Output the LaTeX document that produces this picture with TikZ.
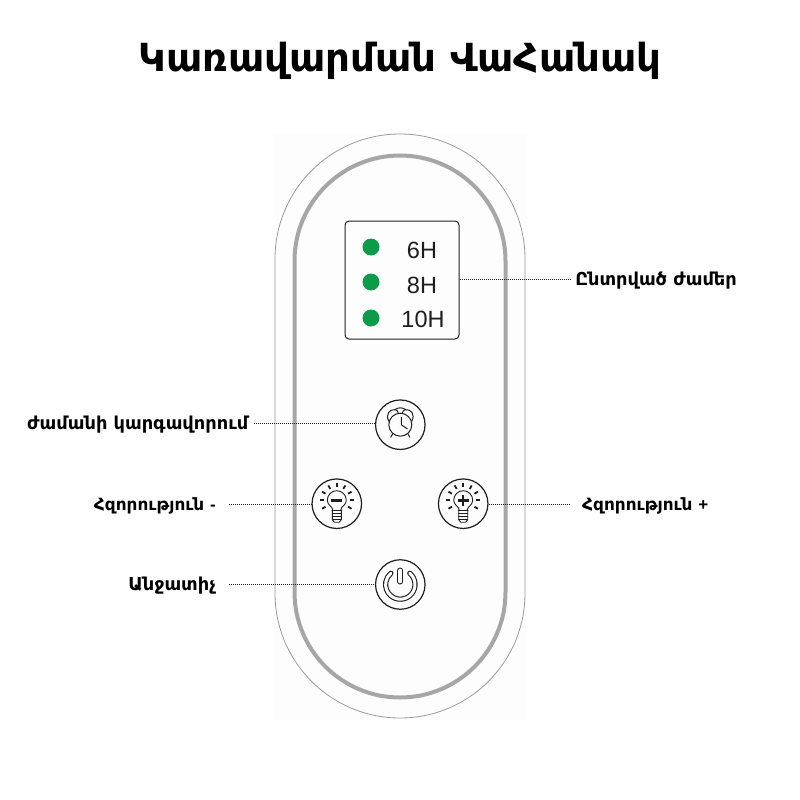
\documentclass[tikz,border=0pt]{standalone}
\usepackage{fontspec}
\setmainfont{DejaVu Sans}
\newfontfamily\digitfont{Liberation Sans}
\usetikzlibrary{calc}
\definecolor{ledgreen}{HTML}{0D9B4B}
\definecolor{ringgray}{HTML}{A6A6A6}
\definecolor{shellgray}{HTML}{9A9A9A}
\definecolor{panelwhite}{HTML}{FDFDFD}
\definecolor{inkdark}{HTML}{1E1E1E}
\tikzset{
  titletext/.style={font=\fontsize{38.7}{44}\selectfont\bfseries,anchor=base,inner sep=0pt,text=black},
  calltext/.style={font=\fontsize{17.8}{20}\selectfont\bfseries,inner sep=0pt,text=black},
  powertext/.style={font=\fontsize{16.9}{20}\selectfont\bfseries,inner sep=0pt,text=black},
  hourtext/.style={font=\digitfont\fontsize{23.5}{28}\selectfont,anchor=base,inner sep=0pt,text=inkdark},
  leddot/.style={circle,fill=ledgreen,minimum size=17pt,inner sep=0pt},
  knob/.style={circle,draw=inkdark,line width=1.2pt,minimum size=49.5pt,inner sep=0pt,fill=panelwhite},
  leader/.style={draw=inkdark,line width=.6pt,dash pattern=on 1pt off 1pt},
  glyph/.style={draw=inkdark,line width=1pt,line cap=round,line join=round},
  ray/.style={draw=inkdark,line width=1.8pt},
}
\newcommand{\bulbicon}[1]{%
  \begin{scope}[shift={(#1)}]
    \draw[glyph,line width=.9pt] (-4,6) .. controls (-4.5,2.5) and (-9.5,1.5) .. (-9.5,-3.5) arc[start angle=180,end angle=0,x radius=9.5,y radius=-9.5] .. controls (9.5,1.5) and (4.5,2.5) .. (4,6);
    \draw[glyph,line width=.9pt] (-5,6.5) -- (5,6.5);
    \draw[glyph,line width=.9pt] (-4.5,6.5) -- (-4.5,16) -- (-2.5,18.5) -- (2.5,18.5) -- (4.5,16) -- (4.5,6.5);
    \foreach \yy in {9.5,12.5,15.5} \draw[glyph,line width=1pt] (-4.5,\yy) -- (4.5,\yy);
    \foreach \aa in {-30,0,30,60,90,120,150,180,210}
      \draw[ray] ($(0,-3.5)+(\aa:13 and -13)$) -- ($(0,-3.5)+(\aa:17 and -17)$);
  \end{scope}}
\begin{document}
\begin{tikzpicture}[x=1pt,y=-1pt]
\useasboundingbox (0,0) rectangle (800,800);
\fill[white] (0,0) rectangle (800,800);
\fill[panelwhite] (273,134) rectangle (527,720);
% shells
\draw[shellgray,line width=.8pt] (275,259) arc[start angle=180,end angle=0,x radius=125,y radius=-125] -- (525,593) arc[start angle=0,end angle=-180,x radius=125,y radius=-125] -- cycle;
\draw[ringgray,line width=4pt] (294.5,261) arc[start angle=180,end angle=0,x radius=105.5,y radius=-105.5] -- (505.5,592) arc[start angle=0,end angle=-180,x radius=105.5,y radius=-105.5] -- cycle;
% title
\node[titletext] (title) at (400,71) {Կառավարման ՎաՀանակ};
% display
\node[draw=inkdark,line width=1pt,rounded corners=4pt,minimum width=114pt,minimum height=118pt,inner sep=0pt,fill=panelwhite] (lcd) at (402,280) {};
\node[leddot] (ledA) at (371,247) {};
\node[leddot] (ledB) at (371,282) {};
\node[leddot] (ledC) at (371,318) {};
\node[hourtext] (hA) at (422,258) {6H};
\node[hourtext] (hB) at (422,293) {8H};
\node[hourtext] (hC) at (423,327) {10H};
% knobs
\node[knob] (clock) at (400.3,424.7) {};
\node[knob] (minus) at (336.8,503.7) {};
\node[knob] (plus) at (463.2,503.7) {};
\node[knob] (power) at (400.3,584.5) {};
% alarm icon
\begin{scope}[shift={(clock.center)}]
  \draw[glyph] (0,0) circle[radius=11.5];
  \draw[glyph] (1,-7.5) -- (1,0) -- (7,4.2);
  \draw[glyph] (-7.5,9) -- (-9.5,12.5);
  \draw[glyph] (7.5,9) -- (9.5,12.5);
  \draw[glyph] (-11.5,-3.5) .. controls (-15,-10) and (-11,-16) .. (-5,-15) .. controls (-3.5,-14.5) and (-2,-13.5) .. (-2,-11.5);
  \draw[glyph] (11.5,-3.5) .. controls (15,-10) and (11,-16) .. (5,-15) .. controls (3.5,-14.5) and (2,-13.5) .. (2,-11.5);
  \draw[glyph] (-5.5,-15) .. controls (-2,-17.5) and (2,-17.5) .. (5.5,-15);
\end{scope}
% bulb icons
\bulbicon{minus.center}
\bulbicon{plus.center}
\draw[inkdark,line width=2.5pt] ($(minus.center)+(-5.5,-3)$) -- ($(minus.center)+(5.5,-3)$);
\draw[inkdark,line width=2.5pt] ($(plus.center)+(-5.5,-3)$) -- ($(plus.center)+(5.5,-3)$);
\draw[inkdark,line width=2.5pt] ($(plus.center)+(0,-8.5)$) -- ($(plus.center)+(0,2.5)$);
% power icon
\begin{scope}[shift={(power.center)}]
  \draw[inkdark,line width=5.2pt,line cap=round] (50:14.7 and -14.7) arc[start angle=50,end angle=-230,x radius=14.7,y radius=-14.7];
  \draw[panelwhite,line width=3pt,line cap=round] (50:14.7 and -14.7) arc[start angle=50,end angle=-230,x radius=14.7,y radius=-14.7];
  \draw[inkdark,line width=6pt,line cap=round] (0,-14) -- (0,-3);
  \draw[panelwhite,line width=3.8pt,line cap=round] (0,-14) -- (0,-3);
\end{scope}
% labels
\node[calltext,anchor=base east] (lblHours) at (737,285) {Ընտրված ժամեր};
\node[calltext,anchor=base west] (lblTimer) at (27,429) {ժամանի կարգավորում};
\node[powertext,anchor=base east] (lblDown) at (216,510) {Հզորություն {\digitfont -}};
\node[powertext,anchor=base west] (lblUp) at (582,510) {Հզորություն {\digitfont +}};
\node[calltext,anchor=base east] (lblSwitch) at (216,590) {Անջատիչ};
% leaders
\coordinate (endHours) at (571,279);
\coordinate (endTimer) at (254,423);
\coordinate (endDown) at (229,504);
\coordinate (endUp) at (570,504);
\coordinate (endSwitch) at (229,584);
\draw[leader] (lcd.east |- endHours) -- (endHours);
\draw[leader] (endTimer) -- (clock.west |- endTimer);
\draw[leader] (endDown) -- (minus.west |- endDown);
\draw[leader] (plus.east |- endUp) -- (endUp);
\draw[leader] (endSwitch) -- (power.west |- endSwitch);
\end{tikzpicture}
\end{document}
